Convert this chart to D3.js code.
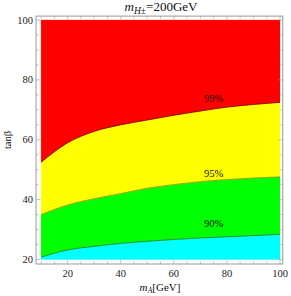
<!DOCTYPE html>
<html><head><meta charset="utf-8">
<script src="https://cdn.jsdelivr.net/npm/d3@7"></script>
<style>body{margin:0;background:#fff}svg{display:block}text{font-family:"Liberation Serif","DejaVu Serif",serif}</style>
</head><body><div id="c"></div>
<script>
const mA = [10, 20, 30, 40, 50, 60, 70, 80, 90, 100];
const cl90 = [20.8, 23.2, 24.4, 25.4, 26.1, 26.7, 27.2, 27.6, 28.0, 28.4];
const cl95 = [35.0, 38.2, 40.3, 42.0, 43.8, 45.0, 46.0, 46.7, 47.2, 47.6];
const cl99 = [52.5, 59.0, 62.8, 65.0, 66.6, 68.2, 69.6, 70.9, 71.8, 72.5];
const xTicks = [20, 40, 60, 80, 100];
const yTicks = [20, 40, 60, 80, 100];
const labels = [{t:"99%", x:75, y:72.7}, {t:"95%", x:75, y:47.6}, {t:"90%", x:75, y:30.8}];

const W = 291, H = 296;
const svg = d3.select("#c").append("svg").attr("width", W).attr("height", H);
const x = d3.scaleLinear().domain([10, 100]).range([41.1, 280]);
const y = d3.scaleLinear().domain([20, 100]).range([259.5, 20]);
const fx0 = x(8.1), fx1 = x(101.05), fy0 = y(101.3), fy1 = y(18.5);

const band = (lo, hi) => d3.area().x((d,i)=>x(mA[i])).y0((d,i)=>y(lo(i))).y1((d,i)=>y(hi(i))).curve(d3.curveMonotoneX);
const bands = [
  {lo:i=>20, hi:i=>cl90[i], c:"#00ffff"},
  {lo:i=>cl90[i], hi:i=>cl95[i], c:"#00ff00"},
  {lo:i=>cl95[i], hi:i=>cl99[i], c:"#ffff00"},
  {lo:i=>cl99[i], hi:i=>100, c:"#ff0000"}
];
bands.forEach(b => svg.append("path").attr("d", band(b.lo, b.hi)(mA)).attr("fill", b.c).attr("stroke", b.c).attr("stroke-width", 0.3));
const line = arr => d3.line().x((d,i)=>x(mA[i])).y((d,i)=>y(arr[i])).curve(d3.curveMonotoneX)(mA);
[[cl90,"#1a7a1a"],[cl95,"#8a8a10"],[cl99,"#700000"]].forEach(([a,c]) =>
  svg.append("path").attr("d", line(a)).attr("fill","none").attr("stroke", c).attr("stroke-width", 0.8));

labels.forEach(l => svg.append("text").attr("x", x(l.x)).attr("y", y(l.y)).attr("text-anchor","middle")
  .attr("font-size", 10.5).attr("fill","#111").text(l.t));

// frame
const fc = "#999";
svg.append("rect").attr("x", fx0).attr("y", fy0).attr("width", fx1-fx0).attr("height", fy1-fy0)
  .attr("fill","none").attr("stroke", fc).attr("stroke-width", 1);
const g = svg.append("g").attr("stroke", fc).attr("stroke-width", 0.6);
for (let v = 10; v <= 100; v += 5) {
  const L = (v % 20 === 0) ? 4.5 : 2.5;
  g.append("line").attr("x1", x(v)).attr("x2", x(v)).attr("y1", fy1).attr("y2", fy1 - L);
  g.append("line").attr("x1", x(v)).attr("x2", x(v)).attr("y1", fy0).attr("y2", fy0 + L);
}
for (let v = 20; v <= 100; v += 5) {
  const L = (v % 20 === 0) ? 4.5 : 2.5;
  g.append("line").attr("y1", y(v)).attr("y2", y(v)).attr("x1", fx0).attr("x2", fx0 + L);
  g.append("line").attr("y1", y(v)).attr("y2", y(v)).attr("x1", fx1).attr("x2", fx1 - L);
}
xTicks.forEach(v => svg.append("text").attr("x", x(v)).attr("y", 277).attr("text-anchor","middle")
  .attr("font-size", 10.5).attr("fill","#222").text(v));
yTicks.forEach(v => svg.append("text").attr("x", 33).attr("y", y(v) + 3.6).attr("text-anchor","end")
  .attr("font-size", 10.5).attr("fill","#222").text(v));

// title
const t = svg.append("text").attr("x", 161).attr("y", 11).attr("text-anchor","middle").attr("font-size", 13).attr("fill","#111");
t.append("tspan").attr("font-style","italic").text("m");
t.append("tspan").attr("font-size", 9.5).attr("dy", 2.5).attr("font-style","italic").text("H");
t.append("tspan").attr("font-size", 9.5).text("±");
t.append("tspan").attr("dy", -2.5).text("=200GeV");

// x label
const xl = svg.append("text").attr("x", 160).attr("y", 291).attr("text-anchor","middle").attr("font-size", 11).attr("fill","#111");
xl.append("tspan").attr("font-style","italic").text("m");
xl.append("tspan").attr("font-size", 8).attr("dy", 2).attr("font-style","italic").text("A");
xl.append("tspan").attr("dy", -2).text("[GeV]");

// y label
svg.append("text").attr("transform", "translate(11,140) rotate(-90)").attr("text-anchor","middle")
  .attr("font-size", 10.5).attr("fill","#111").text("tanβ");
</script></body></html>
